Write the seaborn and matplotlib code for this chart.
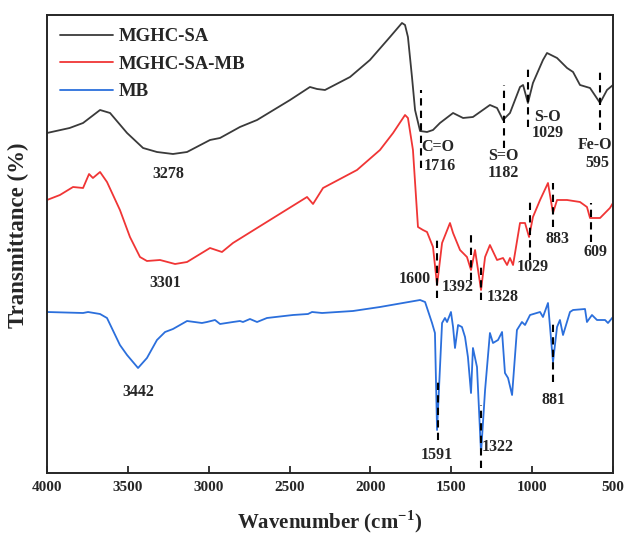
import numpy as np
import pandas as pd
import matplotlib
matplotlib.use("Agg")
import matplotlib.pyplot as plt
import seaborn as sns

# ---- data (wavenumber cm-1, relative transmittance, arbitrary offset units) ----
sa_wn = [4000, 3860, 3777, 3672, 3610, 3505, 3406, 3320, 3221, 3134, 2992, 2930, 2807, 2701,
         2497, 2374, 2330, 2281, 2126, 2003, 1879, 1805, 1786, 1768, 1743, 1724, 1693,
         1650, 1613, 1570, 1489, 1427, 1366, 1261, 1217, 1180, 1137, 1075, 1056, 1026,
         995, 933, 908, 846, 784, 747, 704, 642, 580, 537, 500]
sa_t = [367, 372, 377, 390, 387, 367, 352, 348, 346, 348, 360, 362, 373, 380,
        400, 413, 411, 410, 423, 440, 463, 477, 475, 463, 423, 390, 369,
        368, 370, 377, 387, 382, 383, 395, 392, 380, 387, 413, 415, 397,
        417, 440, 447, 442, 432, 428, 415, 412, 397, 410, 415]

samb_wn = [4000, 3920, 3839, 3777, 3740, 3716, 3672, 3629, 3549, 3487, 3425, 3382, 3301,
           3208, 3134, 2992, 2918, 2850, 2701, 2392, 2355, 2293, 2083, 1941, 1860, 1786,
           1768, 1737, 1706, 1675, 1650, 1613, 1588, 1557, 1508, 1489, 1446, 1403, 1378,
           1353, 1316, 1291, 1261, 1217, 1180, 1155, 1137, 1118, 1075, 1044, 1019, 995,
           951, 902, 871, 846, 784, 704, 661, 642, 580, 519, 500]
samb_t = [300, 305, 313, 312, 326, 322, 328, 318, 290, 263, 243, 239, 240,
          236, 238, 252, 248, 257, 272, 303, 296, 312, 330, 350, 367, 385,
          382, 350, 273, 270, 268, 253, 215, 257, 277, 267, 250, 243, 230,
          250, 210, 243, 255, 240, 242, 235, 242, 235, 277, 277, 263, 283,
          300, 317, 287, 300, 300, 298, 293, 282, 282, 292, 297]

mb_wn = [4000, 3777, 3746, 3672, 3629, 3549, 3505, 3437, 3382, 3320, 3270, 3221, 3134,
         3042, 3011, 2961, 2930, 2850, 2807, 2788, 2745, 2701, 2640, 2479, 2386, 2361,
         2299, 2108, 1941, 1693, 1662, 1619, 1601, 1588, 1557, 1539, 1526, 1502, 1489,
         1477, 1458, 1434, 1415, 1397, 1378, 1366, 1341, 1316, 1291, 1261, 1242, 1211,
         1186, 1168, 1149, 1124, 1094, 1063, 1044, 1013, 951, 933, 902, 871, 846, 828,
         809, 766, 747, 673, 661, 630, 599, 549, 531, 500]
mb_t = [188, 187, 188, 186, 182, 155, 145, 132, 142, 160, 168, 171, 179,
        177, 178, 180, 176, 178, 179, 178, 181, 178, 182, 185, 186, 188,
        187, 189, 193, 200, 198, 177, 167, 70, 177, 182, 178, 188, 173,
        152, 175, 173, 163, 143, 107, 152, 133, 47, 110, 167, 157, 160,
        168, 127, 122, 105, 170, 178, 175, 185, 188, 183, 197, 138, 173, 180,
        165, 188, 190, 191, 178, 185, 180, 180, 177, 183]

series_names = ["MGHC-SA", "MGHC-SA-MB", "MB"]
series_colors = ["#3a3a3a", "#f03535", "#2b6fdc"]

# annotations: (text, x, y)
peak_labels = [("3278", 3252, 326), ("3301", 3270, 217), ("3442", 3437, 108),
               ("C=O", 1582, 353), ("1716", 1570, 334),
               ("S=O", 1180, 344), ("1182", 1180, 327),
               ("S-O", 902, 383), ("1029", 902, 367),
               ("Fe-O", 611, 355), ("595", 599, 337),
               ("1600", 1724, 221), ("1392", 1458, 213), ("1328", 1180, 203),
               ("1029", 995, 233), ("883", 846, 261), ("609", 611, 248),
               ("1591", 1588, 45), ("1322", 1211, 53), ("881", 865, 100)]
# dashed markers: (x, y_low, y_high)
peak_marks = [(1687, 332, 410), (1174, 352, 415), (1026, 373, 435), (580, 370, 432),
              (1588, 202, 263), (1378, 220, 268), (1316, 200, 233), (1013, 240, 300),
              (871, 273, 317), (636, 258, 297),
              (1582, 60, 120), (1316, 32, 95), (871, 118, 180)]

# ---- build long table ----
frames = []
for name, wn, t in zip(series_names, [sa_wn, samb_wn, mb_wn], [sa_t, samb_t, mb_t]):
    frames.append(pd.DataFrame({"wn": wn, "t": t, "sample": name}))
df = pd.concat(frames, ignore_index=True)

sns.set_style("ticks")
plt.rcParams["font.family"] = ["Liberation Serif", "DejaVu Serif"]
plt.rcParams["font.weight"] = "bold"
plt.rcParams["mathtext.fontset"] = "custom"
plt.rcParams["mathtext.rm"] = "Liberation Serif:bold"

fig = plt.figure(figsize=(6.3, 5.45), dpi=100)
ax = fig.add_axes([0.0746, 0.1321, 0.8984, 0.8404])

sns.lineplot(data=df, x="wn", y="t", hue="sample", hue_order=series_names,
             palette=series_colors, sort=False, estimator=None, lw=1.3, ax=ax)

for x, y0, y1 in peak_marks:
    ax.plot([x, x], [y0, y1], color="black", lw=1.5, ls=(0, (3.5, 2.5)))

for txt, x, y in peak_labels:
    ax.text(x, y, txt, ha="center", va="center", fontsize=11.5, fontweight="bold")

ax.set_xlim(4000, 500)
ax.set_ylim(27, 485)
ax.set_xticks([4000, 3500, 3000, 2500, 2000, 1500, 1000, 500])
ax.set_yticks([])
ax.tick_params(axis="x", direction="in", length=5, width=1.3, labelsize=11, pad=6)
for lab in ax.get_xticklabels():
    lab.set_fontweight("bold")
for s in ax.spines.values():
    s.set_linewidth(1.4)
    s.set_visible(True)

ax.set_xlabel("Wavenumber (cm$^{-1}$)", fontsize=15, fontweight="bold", labelpad=10)
ax.set_ylabel("Transmittance (%)", fontsize=16.5, fontweight="bold")
ax.yaxis.set_label_coords(-0.032, 0.52)

leg = ax.legend(loc="upper left", frameon=False, fontsize=13.5, handlelength=2.8,
                handletextpad=0.3, labelspacing=0.55, borderaxespad=0.3,
                bbox_to_anchor=(0.0, 1.0))
for t in leg.get_texts():
    t.set_fontweight("bold")

fig.savefig("out.png", dpi=100)
